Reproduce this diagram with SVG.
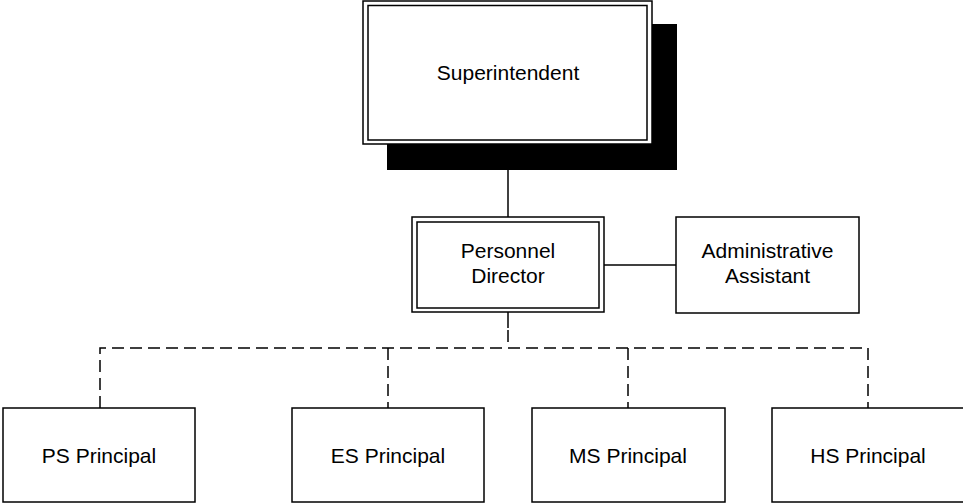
<svg xmlns="http://www.w3.org/2000/svg" width="963" height="504" viewBox="0 0 963 504">
<style>
.box{fill:#fff;stroke:#000;stroke-width:1.5}
.inner{fill:none;stroke:#000;stroke-width:1.5}
.t{font-family:"Liberation Sans",Arial,sans-serif;font-size:21px;fill:#000;text-anchor:middle}
.solid{fill:none;stroke:#000;stroke-width:1.5}
.dash{fill:none;stroke:#000;stroke-width:1.5;stroke-dasharray:12 6}
</style>
<rect width="963" height="504" fill="#fff"/>
<g id="connectors">
<line class="solid" x1="508" y1="170" x2="508" y2="217"/>
<line class="solid" x1="604" y1="265" x2="676" y2="265"/>
<line class="solid" x1="508" y1="312" x2="508" y2="328"/>
<line class="dash" x1="508" y1="330" x2="508" y2="348"/>
<polyline class="dash" points="100,408 100,348 868,348 868,408"/>
<line class="dash" x1="388" y1="348" x2="388" y2="408"/>
<line class="dash" x1="628" y1="348" x2="628" y2="408"/>
</g>
<g id="superintendent">
<rect x="387" y="24" width="290" height="146" fill="#000"/>
<rect class="box" x="363" y="1" width="289" height="143"/>
<rect class="inner" x="368" y="5.5" width="279" height="134.5"/>
<text class="t" x="508" y="80">Superintendent</text>
</g>
<g id="personnel-director">
<rect class="box" x="412" y="217" width="192" height="95"/>
<rect class="inner" x="417" y="222" width="182" height="86"/>
<text class="t" x="508" y="258">Personnel</text>
<text class="t" x="508" y="283">Director</text>
</g>
<g id="administrative-assistant">
<rect class="box" x="676" y="217" width="183" height="96"/>
<text class="t" x="767.5" y="258">Administrative</text>
<text class="t" x="767.5" y="283">Assistant</text>
</g>
<g id="ps-principal">
<rect class="box" x="3" y="408" width="192" height="94"/>
<text class="t" x="99" y="463">PS Principal</text>
</g>
<g id="es-principal">
<rect class="box" x="292" y="408" width="192" height="94"/>
<text class="t" x="388" y="463">ES Principal</text>
</g>
<g id="ms-principal">
<rect class="box" x="532" y="408" width="193" height="94"/>
<text class="t" x="628" y="463">MS Principal</text>
</g>
<g id="hs-principal">
<rect class="box" x="772" y="408" width="194" height="94"/>
<text class="t" x="868" y="463">HS Principal</text>
</g>
</svg>
